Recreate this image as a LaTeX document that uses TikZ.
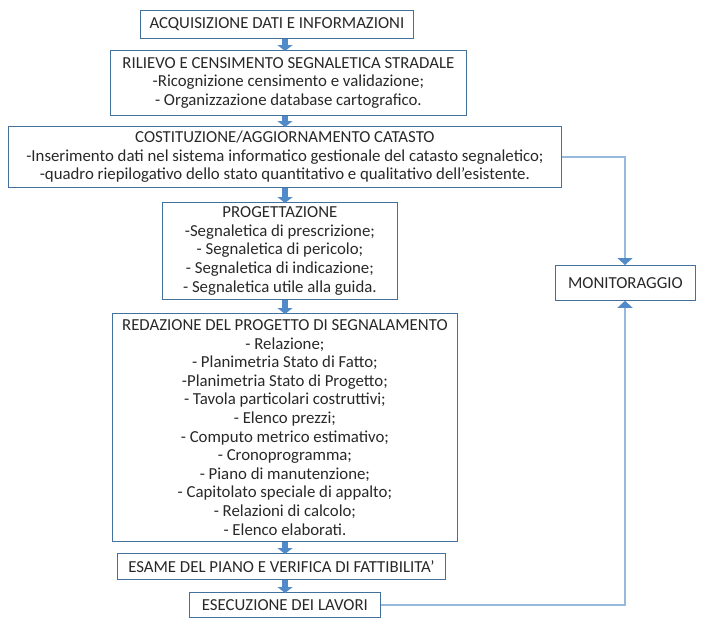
\documentclass[tikz,border=0pt]{standalone}
\usepackage{fontspec}
\setmainfont{Carlito}
\usetikzlibrary{arrows.meta}
\definecolor{bx}{RGB}{65,113,156}
\definecolor{ar}{RGB}{80,138,200}
\definecolor{ln}{RGB}{150,185,220}
\definecolor{tx}{RGB}{40,40,40}
\begin{document}
\begin{tikzpicture}[x=1pt,y=-1pt,
  box/.style={draw=bx,line width=0.8pt,anchor=north west,inner sep=0pt,align=center,text=tx,font=\fontsize{16.8}{18.6}\selectfont},
  blk/.style={draw=ar,line width=6pt,-{Triangle[width=15pt,length=6pt]},shorten >=-1pt},
  conn/.style={draw=ln,line width=1.2pt},
  conna/.style={conn,-{Triangle[width=15pt,length=7pt,color=ar,fill=ar]}}]
\useasboundingbox (0,0) rectangle (705,627);
\node[box,minimum width=273,minimum height=28] (A) at (140,10) {ACQUISIZIONE DATI E INFORMAZIONI};
\node[box,minimum width=356,minimum height=65] (B) at (110,50) {RILIEVO E CENSIMENTO SEGNALETICA STRADALE\\-Ricognizione censimento e validazione;\\- Organizzazione database cartografico.};
\node[box,minimum width=553,minimum height=61] (C) at (8,126) {COSTITUZIONE/AGGIORNAMENTO CATASTO\\-Inserimento dati nel sistema informatico gestionale del catasto segnaletico;\\-quadro riepilogativo dello stato quantitativo e qualitativo dell’esistente.};
\node[box,minimum width=235,minimum height=97] (D) at (162,202) {PROGETTAZIONE\\-Segnaletica di prescrizione;\\- Segnaletica di pericolo;\\- Segnaletica di indicazione;\\- Segnaletica utile alla guida.};
\node[box,minimum width=345,minimum height=228] (E) at (112,313) {REDAZIONE DEL PROGETTO DI SEGNALAMENTO\\- Relazione;\\- Planimetria Stato di Fatto;\\-Planimetria Stato di Progetto;\\- Tavola particolari costruttivi;\\- Elenco prezzi;\\- Computo metrico estimativo;\\- Cronoprogramma;\\- Piano di manutenzione;\\- Capitolato speciale di appalto;\\- Relazioni di calcolo;\\- Elenco elaborati.};
\node[box,minimum width=328,minimum height=26] (F) at (117,553) {ESAME DEL PIANO E VERIFICA DI FATTIBILITA’};
\node[box,minimum width=191,minimum height=25] (G) at (189,592) {ESECUZIONE DEI LAVORI};
\node[box,minimum width=140,minimum height=35] (M) at (555,265) {MONITORAGGIO};
\coordinate (ax) at (285,0);
\coordinate (mx) at (625,0);
\foreach \p/\q in {A/B,B/C,C/D,D/E,E/F,F/G}
  \draw[blk] (\p.south -| ax) -- (\q.north -| ax);
\draw[conna] (C.east) -| (M.north -| mx);
\draw[conna] (G.east) -| (M.south -| mx);
\end{tikzpicture}
\end{document}
